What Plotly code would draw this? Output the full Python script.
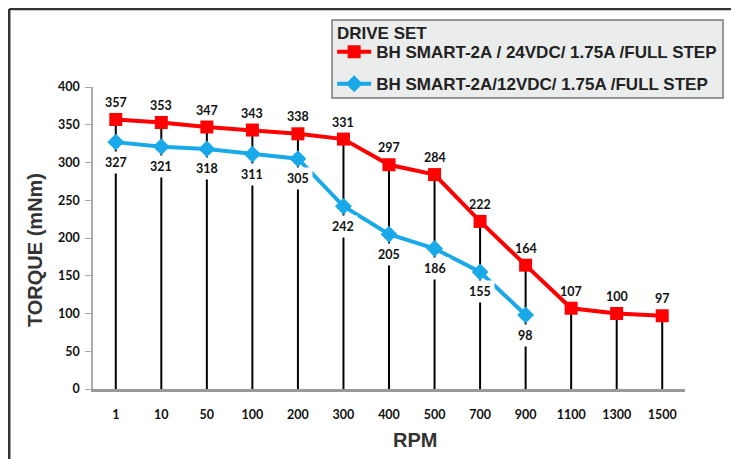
import plotly.graph_objects as go

rpm = ["1", "10", "50", "100", "200", "300", "400", "500", "700", "900", "1100", "1300", "1500"]
torque_24v = [357, 353, 347, 343, 338, 331, 297, 284, 222, 164, 107, 100, 97]
torque_12v = [327, 321, 318, 311, 305, 242, 205, 186, 155, 98]
name_24v = "BH SMART-2A / 24VDC/ 1.75A /FULL STEP"
name_12v = "BH SMART-2A/12VDC/ 1.75A /FULL STEP"
legend_title = "DRIVE SET"
y_ticks = [0, 50, 100, 150, 200, 250, 300, 350, 400]

RED = "#ff0000"
BLUE = "#1aa9e8"
LBL = dict(family="Lato", size=12.5, color="#111111", weight="bold")
LEG = dict(family="Liberation Sans", size=17, color="#222222", weight="bold")

fig = go.Figure()

# drop lines from 0 up to the 24V value
dx, dy = [], []
for c, v in zip(rpm, torque_24v):
    dx += [c, c, None]
    dy += [0, v, None]
fig.add_trace(go.Scatter(x=dx, y=dy, mode="lines", line=dict(color="black", width=2),
                         showlegend=False, hoverinfo="skip"))

fig.add_trace(go.Scatter(x=rpm, y=torque_24v, name=name_24v, mode="lines+markers",
                         line=dict(color=RED, width=4),
                         marker=dict(symbol="square", size=13, color=RED),
                         legendgroup="a"))
fig.add_trace(go.Scatter(x=rpm[:len(torque_12v)], y=torque_12v, name=name_12v,
                         mode="lines+markers",
                         line=dict(color=BLUE, width=4),
                         marker=dict(symbol="diamond", size=13, color=BLUE),
                         legendgroup="b"))

for i, v in enumerate(torque_24v):
    fig.add_annotation(x=i, y=v, text=str(v), showarrow=False, yshift=17, font=LBL)
for i, v in enumerate(torque_12v):
    fig.add_annotation(x=i, y=v, text=str(v), showarrow=False, yshift=-20, font=LBL,
                       bgcolor="white", borderpad=3)

# axis titles
fig.add_annotation(xref="paper", yref="paper", x=-0.098, y=0.46, text="TORQUE (mNm)",
                   textangle=-90, showarrow=False, xanchor="center", yanchor="middle",
                   font=dict(family="Liberation Sans", size=20, color="#333333", weight="bold"))
fig.add_annotation(xref="paper", yref="paper", x=0.544, y=-0.169, text="RPM",
                   showarrow=False, xanchor="center", yanchor="middle",
                   font=dict(family="Liberation Sans", size=20, color="#333333", weight="bold"))

# legend box and title
fig.add_shape(type="rect", xref="paper", yref="paper", x0=0.4037, x1=1.0642, y0=0.9636, y1=1.2219,
              fillcolor="#ebecec", line=dict(color="#777777", width=1.5), layer="below")
fig.add_annotation(xref="paper", yref="paper", x=0.4088, y=1.1788, text=legend_title,
                   showarrow=False, xanchor="left", yanchor="middle", font=LEG)

# outer frame (top and left)
fig.add_shape(type="line", xref="paper", yref="paper", x0=-0.1415, x1=1.2, y0=1.258, y1=1.258,
              line=dict(color="#333333", width=2.5))
fig.add_shape(type="line", xref="paper", yref="paper", x0=-0.1415, x1=-0.1415, y0=1.258, y1=-0.3,
              line=dict(color="#333333", width=2.5))

fig.update_layout(
    width=731, height=451,
    margin=dict(l=85, r=54, t=79, b=70, autoexpand=False),
    paper_bgcolor="white", plot_bgcolor="white",
    showlegend=True,
    legend=dict(
        font=LEG,
        x=0.404, y=1.175, xanchor="left", yanchor="top",
        bgcolor="rgba(0,0,0,0)", borderwidth=0,
        tracegroupgap=7, itemwidth=34,
    ),
    xaxis=dict(type="category", range=[-0.5, 12.5], showline=True, linecolor="#999999",
               linewidth=2.5, ticks="", showgrid=False, zeroline=False,
               tickfont=LBL, ticklabelstandoff=12),
    yaxis=dict(range=[0, 400], tickvals=y_ticks, showline=True, linecolor="#aaaaaa",
               linewidth=1.5, ticks="outside", ticklen=6, tickcolor="#aaaaaa",
               showgrid=False, zeroline=False, tickfont=LBL, ticklabelstandoff=3),
)

fig.write_html("out.html")
